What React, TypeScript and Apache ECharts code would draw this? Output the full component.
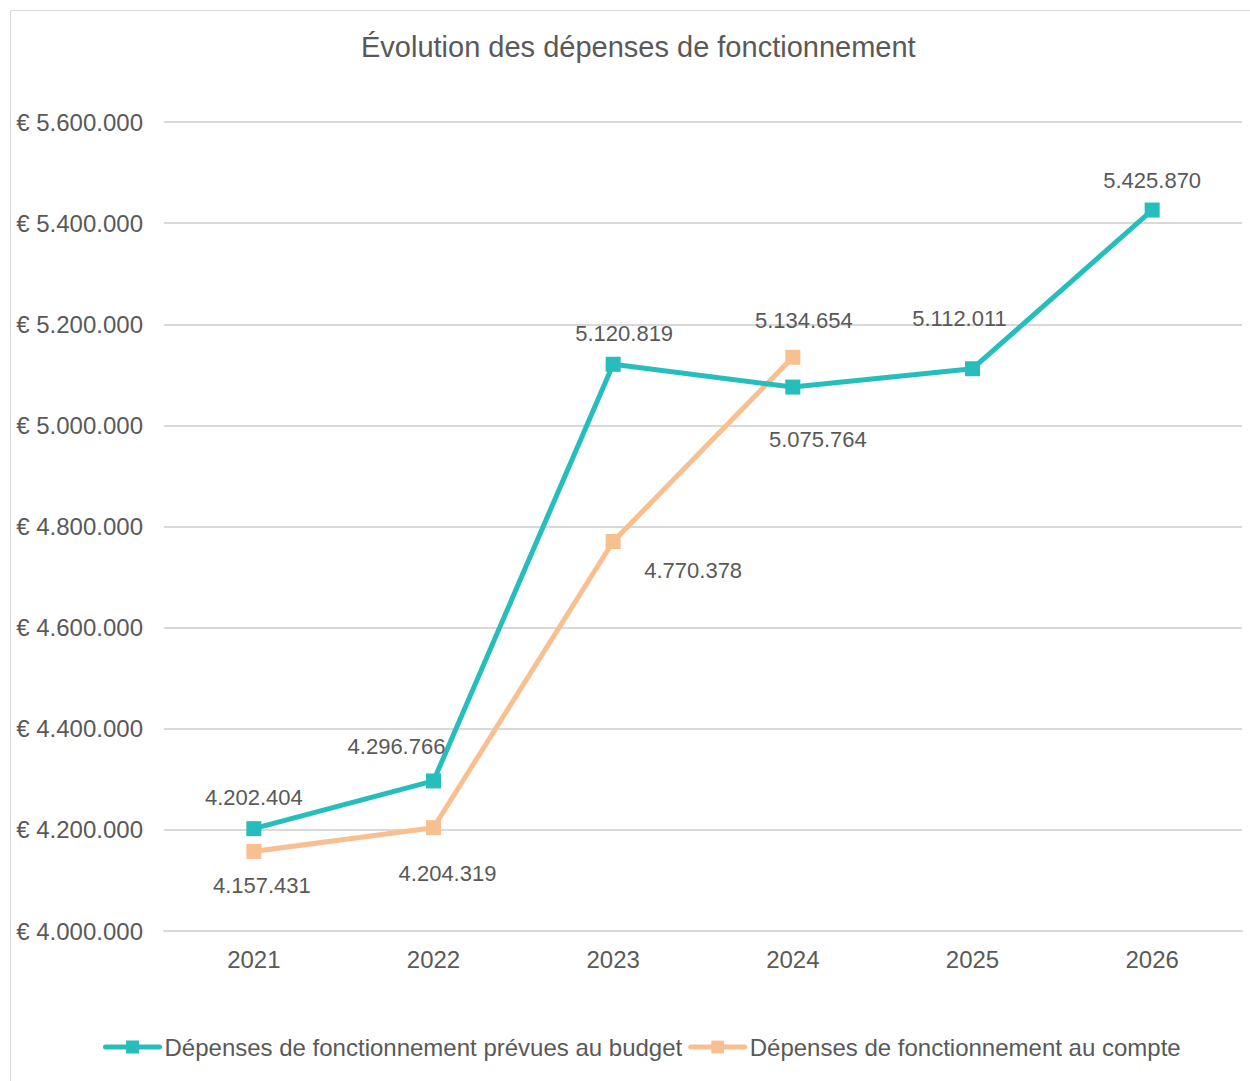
import React, { useEffect, useRef } from "react";
import * as echarts from "echarts";

const TITLE = "Évolution des dépenses de fonctionnement";
const YEARS = ["2021", "2022", "2023", "2024", "2025", "2026"];
const SERIES_BUDGET_NAME = "Dépenses de fonctionnement prévues au budget";
const SERIES_COMPTE_NAME = "Dépenses de fonctionnement au compte";
const BUDGET = [4202404, 4296766, 5120819, 5075764, 5112011, 5425870];
const COMPTE: (number | null)[] = [4157431, 4204319, 4770378, 5134654, null, null];

// label offsets (style only), relative to each point
const BUDGET_LABEL_OFFSETS = [[0, -31], [-37, -34], [11, -31], [25, 52], [-13, -50], [0, -30]];
const COMPTE_LABEL_OFFSETS = [[8, 34], [14, 46], [80, 29], [11, -37], [0, 0], [0, 0]];

const FONT = "'Liberation Sans', Arial, sans-serif";
const TEXT = "#595959";
const TEAL = "#26BDBD";
const PEACH = "#F8C090";

const fmt = (v: number) => String(Math.round(v)).replace(/\B(?=(\d{3})+(?!\d))/g, ".");

export default function App() {
  const ref = useRef<HTMLDivElement>(null);
  useEffect(() => {
    if (!ref.current) return;
    const chart = echarts.init(ref.current, null, { renderer: "svg" });
    const mk = (vals: (number | null)[], offs: number[][]) =>
      vals.map((v, i) =>
        v == null
          ? null
          : {
              value: v,
              label: { position: "inside", offset: offs[i] },
            }
      );
    chart.setOption({
      animation: false,
      backgroundColor: "#fff",
      textStyle: { fontFamily: FONT },
      graphic: [
        {
          type: "rect",
          shape: { x: 10.5, y: 10.5, width: 1300, height: 1200 },
          style: { fill: "none", stroke: "#D9D9D9", lineWidth: 1 },
          silent: true,
        },
      ],
      title: {
        text: TITLE,
        left: 356,
        top: 27,
        textStyle: { color: TEXT, fontSize: 29, fontWeight: "normal", fontFamily: FONT },
      },
      legend: {
        left: 98,
        top: 1030,
        itemWidth: 54,
        itemHeight: 16,
        itemGap: 6,
        lineStyle: { width: 5, cap: "round" },
        textStyle: { color: TEXT, fontSize: 24, fontFamily: FONT },
        data: [SERIES_BUDGET_NAME, SERIES_COMPTE_NAME],
      },
      grid: { left: 164, right: 8, top: 122, bottom: 150, containLabel: false },
      xAxis: {
        type: "category",
        data: YEARS,
        boundaryGap: true,
        axisLine: { lineStyle: { color: "#D9D9D9", width: 2 } },
        axisTick: { show: false },
        axisLabel: { color: TEXT, fontSize: 24, margin: 16, fontFamily: FONT },
      },
      yAxis: {
        type: "value",
        min: 4000000,
        max: 5600000,
        interval: 200000,
        axisLine: { show: false },
        axisTick: { show: false },
        splitLine: { lineStyle: { color: "#D9D9D9", width: 2 } },
        axisLabel: {
          color: TEXT,
          fontSize: 24,
          margin: 21,
          fontFamily: FONT,
          formatter: (v: number) => "€ " + fmt(v),
        },
      },
      series: [
        {
          name: SERIES_BUDGET_NAME,
          type: "line",
          data: mk(BUDGET, BUDGET_LABEL_OFFSETS),
          symbol: "rect",
          symbolSize: 15,
          color: TEAL,
          lineStyle: { color: TEAL, width: 5 },
          itemStyle: { color: TEAL },
          z: 3,
          label: {
            show: true,
            color: TEXT,
            fontSize: 22,
            fontFamily: FONT,
            formatter: (p: any) => fmt(p.value),
          },
        },
        {
          name: SERIES_COMPTE_NAME,
          type: "line",
          data: mk(COMPTE, COMPTE_LABEL_OFFSETS),
          symbol: "rect",
          symbolSize: 15,
          color: PEACH,
          lineStyle: { color: PEACH, width: 5 },
          itemStyle: { color: PEACH },
          z: 2,
          label: {
            show: true,
            color: TEXT,
            fontSize: 22,
            fontFamily: FONT,
            formatter: (p: any) => fmt(p.value),
          },
        },
      ],
    });
    return () => chart.dispose();
  }, []);
  return (
    <div
      ref={ref}
      style={{ position: "fixed", left: 0, top: 0, width: 1250, height: 1081 }}
    />
  );
}
